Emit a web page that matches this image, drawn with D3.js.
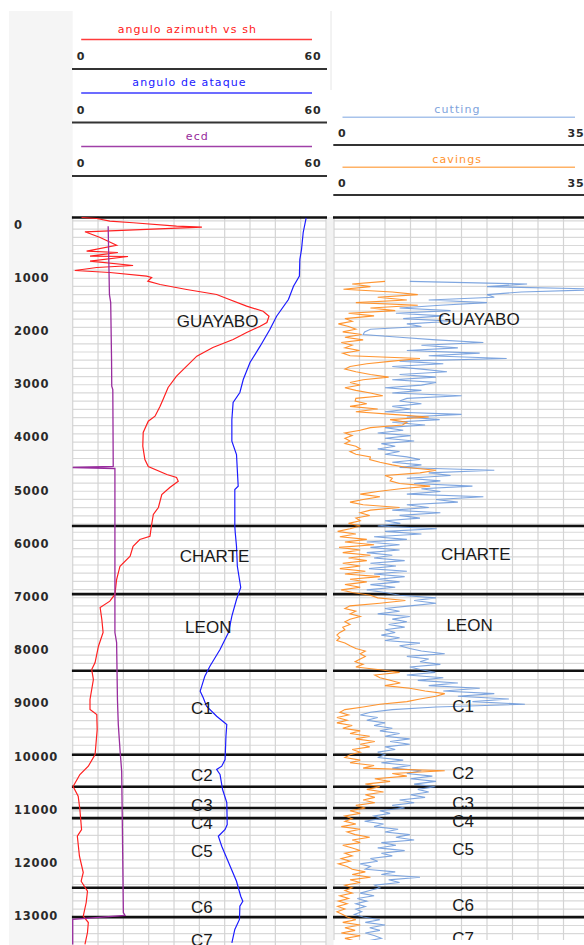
<!DOCTYPE html>
<html>
<head>
<meta charset="utf-8">
<script src="https://cdn.jsdelivr.net/npm/d3@7"></script>
<style>
  body { margin: 0; background: #fff; }
  svg { display: block; }
</style>
</head>
<body>
<svg id="chart"></svg>
<script>
const width = 584;
const height = 945;

// depth labels on the left
const depthTicks = d3.range(0, 14000, 1000);

// formation tops (ft) and where their names sit
const formationNames = ["GUAYABO", "CHARTE", "LEON", "C1", "C2", "C3", "C4", "C5", "C6", "C7"];
const formationTops = [0, 5800, 7080, 8520, 10100, 10700, 11100, 11290, 12600, 13150];
const formationLabelDepths = [1945, 6363, 7697, 9220, 10479, 11043, 11382, 11908, 12961, 13581];

// track 1 curves: [depth, value]
const azimuth = [[0,2.1],[19,5.7],[69,8.8],[99,14.3],[163,24.6],[182,30.6],[269,2.9],[376,6.5],[521,10.4],
  [633,3.3],[658,10.7],[727,4.1],[733,13.1],[821,4.1],[902,14.3],[940,5.7],[996,0.5],[1034,8.8],[1103,17.5],
  [1128,18.7],[1197,17.8],[1259,20.7],[1353,27.0],[1447,34.1],[1523,36.5],[1667,41.2],[1761,45.1],[1855,46.5],
  [1974,46.0],[2043,44.4],[2162,41.2],[2293,38.0],[2444,33.2],[2607,29.4],[2795,27.0],[2983,24.6],[3195,22.6],
  [3421,21.4],[3547,20.7],[3735,19.5],[3829,17.9],[4041,16.7],[4299,16.6],[4549,17.1],[4680,17.9],[4831,22.3],
  [4887,24.6],[4957,25.0],[5075,23.0],[5207,21.1],[5451,20.3],[5583,19.1],[5771,18.7],[5991,18.3],[6053,15.9],
  [6179,14.3],[6367,13.6],[6555,11.2],[6805,10.4],[7086,10.0],[7212,8.8],[7331,6.5],[7556,6.9],[7801,7.2],
  [8058,6.1],[8365,5.3],[8496,4.5],[8684,4.9],[9060,4.1],[9248,4.1],[9342,5.7],[9624,5.8],[10094,5.3],
  [10314,3.7],[10470,1.7],[10695,0.1],[10878,1.3],[11128,1.7],[11504,2.1],[11630,1.1],[12006,1.6],[12312,2.5],
  [12476,2.0],[12664,3.5],[12876,3.2],[13133,2.5],[13252,3.7],[13440,3.5],[13665,2.9]];

const ataque = [[6,55.3],[282,54.6],[602,54.2],[789,53.8],[1103,53.7],[1291,52.3],[1541,51.1],[1855,48.3],
  [2105,46.7],[2419,44.4],[2726,42.0],[3045,40.4],[3289,39.6],[3477,38.0],[3797,37.7],[4205,37.7],[4455,38.8],
  [5051,39.2],[5113,38.4],[5803,38.4],[5921,38.5],[6179,38.8],[6555,39.0],[6805,39.5],[6955,39.8],[7180,38.8],
  [7494,37.7],[7801,36.9],[8120,34.9],[8434,32.5],[8622,31.3],[8904,30.2],[9023,30.9],[9186,31.7],[9374,34.1],
  [9530,36.5],[9750,36.3],[10188,36.1],[10314,35.3],[10376,34.1],[10470,34.9],[10752,35.5],[10996,36.5],
  [11410,36.6],[11504,36.1],[11630,34.5],[11818,35.3],[12194,37.3],[12476,38.8],[12758,39.8],[12852,40.3],
  [12945,39.6],[13195,39.5],[13383,38.4],[13633,37.7]];

const ecd = [[164,8.4],[1447,8.7],[1598,9.0],[2669,9.2],[3171,9.25],[3233,9.5],[4680,9.6],[4699,0],[4718,10.0],
  [7801,10.0],[7989,10.4],[9060,10.6],[9530,10.8],[10000,11.2],[10408,11.6],[11692,11.8],[13064,12.0],
  [13120,12.4],[13195,0],[13665,0]];

// track 2 logs, one sample every 50 ft from 1200 ft
const logStart = 1200;
const logStep = 50;
const cuttingValues = [
  10.4, 26.5, 21, 38, 25.7, 21, 22, 13, 21, 14.6, 9, 16, 8.5, 15, 9.5, 16.3, 10, 12, 5,
  4.2, 4.0, 9, 14, 20.5, 12, 17, 10, 20, 13, 23.7, 9, 15, 8, 12, 15.5, 9, 14, 8, 14, 12, 7, 12, 8, 17.5, 10, 9, 12,
  8, 10.5, 7, 17.5, 10, 14.5, 8, 12.5, 7, 9.5, 6, 10.5, 7, 11, 6.5, 8.4, 6, 9, 7, 10, 11.8, 8, 12, 9, 22, 13, 16,
  10, 14.6, 11, 19, 12, 14.6, 10, 20.5, 14, 17, 10, 13, 8, 14.6, 9, 11.8, 7, 9.1, 6,
  14.1, 7, 12, 5.5, 10, 4.5, 9, 5, 9, 4.5, 8, 5.5, 9.7, 5, 8.5, 4.8, 10, 5.5, 9.7, 6, 9, 5, 8.4, 4.5, 7,
  9, 14, 11, 14, 10.4, 7, 9, 6, 10.4, 8, 10, 7.5, 9.7, 7, 8.4, 6.5, 9, 7, 11.8, 9, 10.4, 12, 15.2, 10, 13, 11.8, 14.6, 10.4, 12,
  13.9, 10, 15, 11.5, 17, 13, 20, 15, 22, 17, 24, 19, 26.2, 14, 8,
  5, 3.6, 6, 4.5, 7, 5.5, 8, 6.3, 9, 7, 10.4, 7.7, 10.4, 7, 8.4, 6, 7,
  6, 9.5, 6.5, 10.5, 8, 12, 10, 13.5, 10.5, 14, 11, 13.9, 11.5, 13, 10.5, 12.5, 9, 11, 8, 9.7, 6.3, 7.7, 5.5, 6.5,
  4.2, 6.8, 5.5, 8.8, 7, 10.4, 8.5, 11, 6.5, 8.5, 6, 9.7, 6.5, 8, 5, 6, 3.6, 5, 4.3, 8.4, 6.5, 11.8, 7.5, 9, 5.6, 6.3,
  4.9, 3.6, 5.5, 3.2, 4.5, 3, 4.3, 3, 3.8, 2.8, 4,
  6.3, 4.3, 7, 4.9, 6.3, 4.3, 5.6, 6.5, 4.5, 5.6
];
const cavingsValues = [
  7, 2.5, 5, 1.3, 8, 11.5, 6, 10, 3, 11.5, 5, 8.4, 2, 5.5, 1.5, 2.5, 0.6, 2, 3,
  1.2, 3.8, 1.5, 4, 1.0, 2.5, 1.5, 3.5, 1.2, 2.2, 11.8, 8, 4.5, 2.2, 1.5, 3, 5, 7.5, 4, 2.2, 3.6, 1.5, 3, 5, 6.7, 3, 2.9, 4.5,
  2.2, 6, 3, 8, 13, 7.7, 10, 9.4, 5, 3.6, 1.5, 2.5, 1.5, 2.2, 1.5, 3, 3.6, 2.2, 3, 5, 4.9, 6.3, 8, 10, 14, 11.8, 7, 8,
  7.7, 9, 13.2, 9.1, 6, 3.6, 6.3, 4, 2.2, 4, 9, 5, 3.6, 4.9, 3, 3.6, 2, 3.6,
  2.2, 0.5, 3, 0.8, 4.5, 1.5, 5.5, 0.7, 3.6, 1.2, 5, 2, 4.5, 1.2, 3.6, 0.8, 4.3, 1.5, 6.3, 2.2, 4.5, 1.5, 3.6, 1, 2.5,
  5, 6, 9.8, 6.3, 2.2, 1.5, 3, 2.2, 3.6, 2.2, 1.5, 2.2, 1.2, 1.5, 0.8, 0.4, 0.8, 0.4, 1.5, 2.2, 3, 4.3, 3.6, 4.3, 3.6, 2.9, 4, 3, 6.3,
  9, 5.6, 6.3, 7.7, 9.1, 7, 10.4, 12.5, 15.2, 14, 11.8, 10, 6.3, 4, 1.5,
  0.8, 2, 0.4, 1.8, 0.4, 2.5, 1.2, 3.6, 2.2, 4.9, 3, 5.6, 3.6, 4.9, 2.5, 3.6, 2.2,
  1.5, 3.6, 2.2, 5.5, 4, 15.2, 8, 10, 5.6, 7.7, 4.3, 6.3, 4.5, 6.8, 4.3, 5.6, 4, 5.6, 3, 4.3, 2.2, 3.6, 1.5, 2.5,
  1.5, 3, 1, 3.6, 1.8, 2.9, 4.9, 2.5, 3.6, 1.2, 2.5, 3.6, 1.5, 2.5, 1, 2.2, 0.6, 1.8, 2.5, 4.3, 2.5, 5, 2.2, 3.6, 1.5, 2.5,
  1.5, 2.5, 0.8, 2, 0.6, 1.8, 0.5, 1.5, 0.4, 1.2, 1.8,
  3, 1.2, 3.6, 1.5, 2.9, 1, 3.6, 1.5, 2.9, 2.2
];

// header entries
const track1Titles = ["angulo azimuth vs sh", "angulo de ataque", "ecd"];
const track1Domain = [0, 60];
const track2Titles = ["cutting", "cavings"];
const track2Domain = [0, 35];

const svg = d3.select('#chart')
  .attr('width', width)
  .attr('height', height);

const y = d3.scaleLinear().domain([0, 13000]).range([217.5, 217.5 + 0.0532 * 13000]);
const x1 = d3.scaleLinear().domain(track1Domain).range([72.7, 326]);
const x2 = d3.scaleLinear().domain(track2Domain).range([334, 589]);

const numFont = "'DejaVu Sans', Verdana, sans-serif";

const tracks = [
  { id: 't1', x: x1, titles: track1Titles, colors: ['#ff2020', '#2020ff', '#952a9b'], lineColors: ['#ff3b3b', '#3b3bff', '#a040a8'],
    seps: [69, 122.5, 176], titleOff: 36.5, lineOff: 29.5, scaleOff: 9, bottom: 945 },
  { id: 't2', x: x2, titles: track2Titles, colors: ['#7ea3dc', '#ff9430'], lineColors: ['#a8c3eb', '#ffb266'],
    seps: [145, 195], titleOff: 32.5, lineOff: 27.7, scaleOff: 8.3, bottom: 940 }
];

// backgrounds
svg.append('rect').attr('width', width).attr('height', height).attr('fill', '#fff');
svg.append('rect').attr('x', 9).attr('y', 11).attr('width', 63.7).attr('height', height - 11).attr('fill', '#f5f5f5');
svg.append('rect').attr('x', 326.5).attr('y', 217).attr('width', 7).attr('height', height - 217).attr('fill', '#f2f2f2');
svg.append('line').attr('x1', 331).attr('x2', 331).attr('y1', 11).attr('y2', 90).attr('stroke', '#e6e6e6');

const gridDepths = d3.range(64, 14200, 154);
const line = d3.line().curve(d3.curveLinear);

tracks.forEach(t => {
  const [left, right] = t.x.range();
  const mid = (left + right) / 2;

  // header
  const head = svg.append('g');
  t.titles.forEach((title, i) => {
    const s = t.seps[i];
    const txt = head.append('text')
      .text(title)
      .attr('font-family', numFont)
      .attr('font-size', 11)
      .attr('letter-spacing', 1.1)
      .attr('fill', t.colors[i])
      .attr('y', s - t.titleOff);
    const w = txt.node().getComputedTextLength();
    txt.attr('x', mid - 0.586 * w);
    head.append('line')
      .attr('x1', left + 8.5).attr('x2', right - 14)
      .attr('y1', s - t.lineOff).attr('y2', s - t.lineOff)
      .attr('stroke', t.lineColors[i]).attr('stroke-width', 1.5);
    head.append('text').text(t.x.domain()[0])
      .attr('x', left + 4).attr('y', s - t.scaleOff)
      .attr('font-family', numFont).attr('font-weight', 'bold')
      .attr('font-size', 11).attr('letter-spacing', 0.8).attr('fill', '#2a2a2a');
    head.append('text').text(t.x.domain()[1])
      .attr('x', right - 4.5).attr('y', s - t.scaleOff)
      .attr('text-anchor', 'end')
      .attr('font-family', numFont).attr('font-weight', 'bold')
      .attr('font-size', 11).attr('letter-spacing', 0.8).attr('fill', '#2a2a2a');
    head.append('line')
      .attr('x1', left - 0.7).attr('x2', right + 1)
      .attr('y1', s).attr('y2', s)
      .attr('stroke', '#333').attr('stroke-width', 1.8);
  });

  // plot area
  svg.append('clipPath').attr('id', 'clip-' + t.id)
    .append('rect')
    .attr('x', left - 1).attr('y', 216)
    .attr('width', right - left + 2).attr('height', t.bottom - 216);

  const plot = svg.append('g').attr('clip-path', `url(#clip-${t.id})`);
  plot.append('rect').attr('x', left).attr('y', 216).attr('width', right - left).attr('height', t.bottom - 216).attr('fill', '#fff');

  plot.append('g').selectAll('line')
    .data(gridDepths)
    .join('line')
      .attr('x1', left).attr('x2', right)
      .attr('y1', d => y(d)).attr('y2', d => y(d))
      .attr('stroke', '#d9d9d9').attr('stroke-width', 1.2);

  plot.append('g').selectAll('line')
    .data(d3.range(11).map(k => t.x.domain()[1] * k / 10))
    .join('line')
      .attr('x1', d => t.x(d)).attr('x2', d => t.x(d))
      .attr('y1', 216).attr('y2', t.bottom)
      .attr('stroke', '#d4d4d4').attr('stroke-width', 1.2);

  t.plot = plot;
});

// formation tops
tracks.forEach(t => {
  const [left, right] = t.x.range();
  t.plot.append('g').selectAll('line')
    .data(formationTops)
    .join('line')
      .attr('x1', left - 1).attr('x2', right + 1)
      .attr('y1', d => y(d)).attr('y2', d => y(d))
      .attr('stroke', '#111').attr('stroke-width', 2.6);
});

// track 1 curves
const p1 = tracks[0].plot;
[[azimuth, '#ff2020', 1.2], [ataque, '#1c1cff', 1.2], [ecd, '#982c9e', 1.3]].forEach(([data, color, w]) => {
  p1.append('path')
    .attr('d', line(data.map(d => [x1(d[1]), y(d[0])])))
    .attr('fill', 'none')
    .attr('stroke', color)
    .attr('stroke-width', w);
});

// track 2 logs
const p2 = tracks[1].plot;
[[cuttingValues, '#6896da', 0.85], [cavingsValues, '#ff8a1a', 0.9]].forEach(([vals, color, op]) => {
  p2.append('path')
    .attr('d', line(vals.map((v, i) => [x2(v), y(logStart + i * logStep)])))
    .attr('fill', 'none')
    .attr('stroke', color)
    .attr('stroke-opacity', op)
    .attr('stroke-width', 1.1);
});

// formation names
tracks.forEach((t, ti) => {
  const left = t.x.range()[0];
  t.plot.append('g').selectAll('text')
    .data(formationNames)
    .join('text')
      .text(d => d)
      .attr('font-family', "'Liberation Sans', Arial, sans-serif")
      .attr('font-size', 17)
      .attr('fill', '#1a1a1a')
      .attr('y', (d, i) => y(formationLabelDepths[i]) + 6.1 - (ti === 1 ? 2 : 0))
      .attr('x', function () { return left + 123.3 - 0.235 * this.getComputedTextLength(); });
});

// depth axis
const depthAxis = d3.axisRight(y)
  .tickValues(depthTicks)
  .tickSize(0)
  .tickPadding(0)
  .tickFormat(d3.format('d'));

const axisG = svg.append('g')
  .attr('transform', 'translate(14,7)')
  .call(depthAxis);
axisG.select('.domain').remove();
axisG.selectAll('text')
  .attr('font-family', numFont)
  .attr('font-weight', 'bold')
  .attr('font-size', 11.5)
  .attr('letter-spacing', 0.8)
  .attr('fill', '#2a2a2a');
</script>
</body>
</html>
